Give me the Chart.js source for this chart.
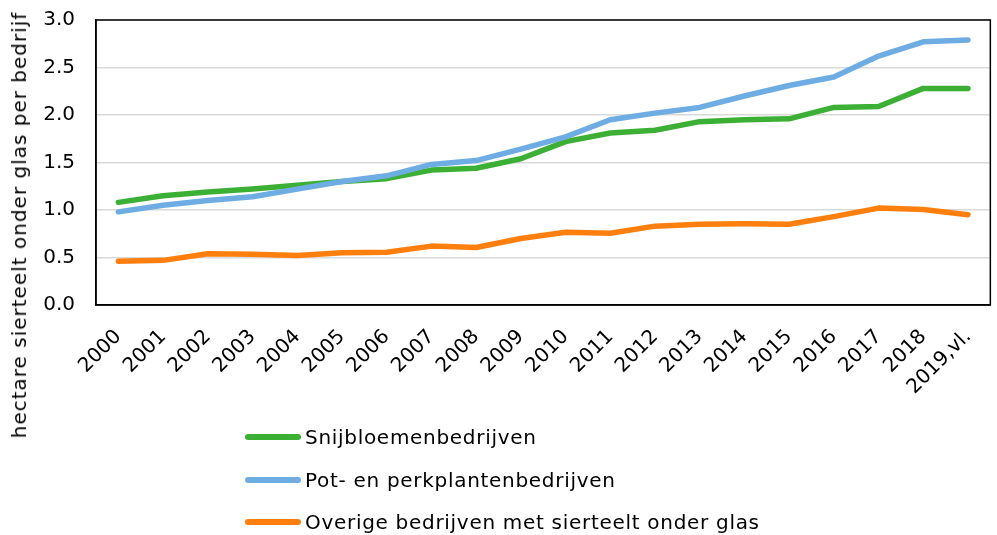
<!DOCTYPE html>
<html lang="nl">
<head>
    <meta charset="UTF-8">
    <title>Sierteelt onder glas per bedrijf</title>
    <script src="https://cdn.jsdelivr.net/npm/chart.js"></script>
    <style>
        body { margin: 0; background: #fff; font-family: "DejaVu Sans", Verdana, sans-serif; }
        .wrap { position: relative; width: 997px; height: 535px; }
        #chart { position: absolute; left: 0; top: 0; }
        .ytitle {
            position: absolute; left: 19px; top: 225px;
            transform: translate(-50%, -50%) rotate(-90deg);
            white-space: nowrap; font-size: 20px; letter-spacing: 1px; color: #000;
        }
        .legend { position: absolute; left: 245px; top: 416px; font-size: 20px; letter-spacing: 0.7px; color: #000; }
        .legend div { display: flex; align-items: center; height: 42.5px; }
        .legend span.swatch { display: inline-block; width: 56px; height: 6px; border-radius: 3px; margin-right: 4px; }
    </style>
</head>
<body>
    <div class="wrap">
        <canvas id="chart" width="997" height="535"></canvas>
        <div class="ytitle">hectare sierteelt onder glas per bedrijf</div>
        <div class="legend" id="legend"></div>
    </div>

    <script>
        // jaren
        const years = ['2000', '2001', '2002', '2003', '2004', '2005', '2006', '2007', '2008', '2009',
            '2010', '2011', '2012', '2013', '2014', '2015', '2016', '2017', '2018', '2019,vl.'];

        const snijbloemen = [1.08, 1.15, 1.19, 1.22, 1.26, 1.30, 1.33, 1.42, 1.44, 1.54,
            1.72, 1.81, 1.84, 1.93, 1.95, 1.96, 2.08, 2.09, 2.28, 2.28];
        const potPerk = [0.98, 1.05, 1.10, 1.14, 1.22, 1.30, 1.36, 1.48, 1.52, 1.64,
            1.77, 1.95, 2.02, 2.08, 2.20, 2.31, 2.40, 2.62, 2.77, 2.79];
        const overige = [0.46, 0.47, 0.54, 0.535, 0.52, 0.55, 0.555, 0.62, 0.605, 0.70,
            0.765, 0.755, 0.83, 0.85, 0.855, 0.85, 0.93, 1.02, 1.005, 0.95];

        const seriesNames = ['Snijbloemenbedrijven', 'Pot- en perkplantenbedrijven', 'Overige bedrijven met sierteelt onder glas'];
        const seriesColors = ['#3bb034', '#6eade3', '#ff7f0e'];
        const yTicks = [0, 0.5, 1.0, 1.5, 2.0, 2.5, 3.0];

        const font = { family: '"DejaVu Sans", Verdana, sans-serif', size: 20 };

        // kader rond het plotgebied
        const frame = {
            id: 'frame',
            afterDraw(chart) {
                const a = chart.chartArea, ctx = chart.ctx;
                ctx.save();
                ctx.strokeStyle = '#000';
                ctx.lineWidth = 1.5;
                ctx.strokeRect(a.left, a.top, a.right - a.left, a.bottom - a.top);
                ctx.restore();
            }
        };

        const data = {
            labels: years,
            datasets: [snijbloemen, potPerk, overige].map((d, i) => ({
                label: seriesNames[i],
                data: d,
                borderColor: seriesColors[i],
                backgroundColor: seriesColors[i],
                borderWidth: 5.5,
                pointRadius: 0,
                tension: 0,
                borderCapStyle: 'round',
                borderJoinStyle: 'round',
                order: [1, 0, 2][i]
            }))
        };

        new Chart(document.getElementById('chart'), {
            type: 'line',
            data: data,
            options: {
                responsive: false,
                animation: false,
                layout: { padding: { top: 20, right: 2, left: 0, bottom: 0 } },
                plugins: { legend: { display: false }, tooltip: { enabled: false } },
                scales: {
                    x: {
                        offset: true,
                        grid: { display: false },
                        border: { color: '#000', width: 1.5 },
                        ticks: { color: '#000', font: font, minRotation: 45, maxRotation: 45, autoSkip: false, padding: 12 },
                        afterFit(scale) { scale.height = 230; }
                    },
                    y: {
                        min: 0, max: 3,
                        afterBuildTicks(scale) { scale.ticks = yTicks.map(v => ({ value: v })); },
                        grid: { color: '#d9d9d9', lineWidth: 1.5, drawTicks: false },
                        border: { color: '#000', width: 1.5 },
                        ticks: { color: '#000', font: font, padding: 21, callback: v => v.toFixed(1) },
                        afterFit(scale) { scale.width = 96; scale.paddingTop = 0; scale.paddingBottom = 0; }
                    }
                }
            },
            plugins: [frame]
        });

        // legenda onder elkaar
        const legend = document.getElementById('legend');
        seriesNames.forEach((name, i) => {
            const row = document.createElement('div');
            row.innerHTML = '<span class="swatch" style="background:' + seriesColors[i] + '"></span>' + name;
            legend.appendChild(row);
        });
    </script>
</body>
</html>
